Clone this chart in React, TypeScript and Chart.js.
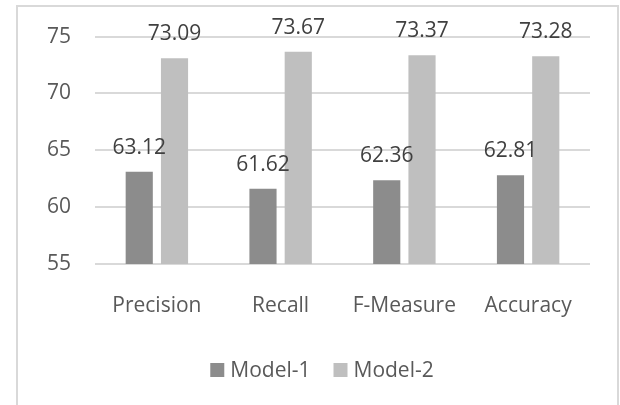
import React, { useEffect, useRef } from "react";
import { Chart, registerables } from "chart.js";

Chart.register(...registerables);

const categories = ["Precision", "Recall", "F-Measure", "Accuracy"];
const model1 = [63.12, 61.62, 62.36, 62.81];
const model2 = [73.09, 73.67, 73.37, 73.28];
const seriesNames = ["Model-1", "Model-2"];
const seriesColors = ["#8c8c8c", "#bfbfbf"];
const yTicks = [55, 60, 65, 70, 75];

const FONT = "'Open Sans', 'Liberation Sans', sans-serif";
const FS = 21;

const borderPlugin = {
  id: "frameBorder",
  beforeDraw(chart: any) {
    const ctx = chart.ctx;
    ctx.save();
    ctx.fillStyle = "#ffffff";
    ctx.fillRect(0, 0, chart.width, chart.height);
    ctx.strokeStyle = "#d9d9d9";
    ctx.lineWidth = 2;
    ctx.strokeRect(17, 6, 601, chart.height + 20);
    ctx.restore();
  },
};

const labelPlugin = {
  id: "valueLabels",
  afterDatasetsDraw(chart: any) {
    const ctx = chart.ctx;
    ctx.save();
    ctx.font = `${FS}px ${FONT}`;
    ctx.fillStyle = "#404040";
    ctx.textAlign = "center";
    ctx.textBaseline = "middle";
    chart.data.datasets.forEach((ds: any, i: number) => {
      const meta = chart.getDatasetMeta(i);
      meta.data.forEach((bar: any, j: number) => {
        ctx.fillText(Number(ds.data[j]).toFixed(2), bar.x, bar.y - 24);
      });
    });
    ctx.restore();
  },
};

const legendPlugin = {
  id: "customLegend",
  afterDraw(chart: any) {
    const ctx = chart.ctx;
    ctx.save();
    ctx.font = `${FS}px ${FONT}`;
    ctx.textBaseline = "middle";
    ctx.textAlign = "left";
    const box = 14;
    const gap = 6;
    const spacing = 23;
    const items = chart.data.datasets.map((ds: any) => ({
      label: ds.label,
      color: ds.backgroundColor,
      w: ctx.measureText(ds.label).width,
    }));
    const total =
      items.reduce((s: number, it: any) => s + box + gap + it.w, 0) +
      spacing * (items.length - 1);
    let x = 322 - total / 2;
    const cy = 370;
    items.forEach((it: any) => {
      ctx.fillStyle = it.color;
      ctx.fillRect(x, cy - box / 2, box, box);
      x += box + gap;
      ctx.fillStyle = "#595959";
      ctx.fillText(it.label, x, cy + 1);
      x += it.w + spacing;
    });
    ctx.restore();
  },
};

export default function App() {
  const ref = useRef<HTMLCanvasElement>(null);
  useEffect(() => {
    if (!ref.current) return;
    const chart = new Chart(ref.current, {
      type: "bar",
      data: {
        labels: categories,
        datasets: [
          { label: seriesNames[0], data: model1, backgroundColor: seriesColors[0] },
          { label: seriesNames[1], data: model2, backgroundColor: seriesColors[1] },
        ],
      },
      options: {
        animation: false,
        responsive: false,
        layout: { padding: { top: 36, right: 30, bottom: 0, left: 0 } },
        datasets: {
          bar: { categoryPercentage: 0.57, barPercentage: 0.77 },
        },
        plugins: {
          legend: { display: false },
          tooltip: { enabled: false },
        },
        scales: {
          x: {
            grid: { display: false },
            border: { display: false },
            ticks: { color: "#595959", font: { family: FONT, size: FS }, padding: 21 },
            afterFit(scale: any) {
              scale.height = 405 - 264;
            },
          },
          y: {
            min: 55,
            max: 75,
            afterBuildTicks(scale: any) {
              scale.ticks = yTicks.map((v) => ({ value: v }));
            },
            grid: { color: "#d9d9d9", lineWidth: 2, drawTicks: false },
            border: { display: false },
            ticks: { color: "#595959", font: { family: FONT, size: FS }, padding: 24 },
            afterFit(scale: any) {
              scale.width = 95;
            },
          },
        },
      },
      plugins: [borderPlugin, labelPlugin, legendPlugin],
    });
    return () => chart.destroy();
  }, []);
  return (
    <div style={{ position: "fixed", left: 0, top: 0, width: 620, height: 405 }}>
      <canvas ref={ref} width={620} height={405} style={{ display: "block" }} />
    </div>
  );
}
